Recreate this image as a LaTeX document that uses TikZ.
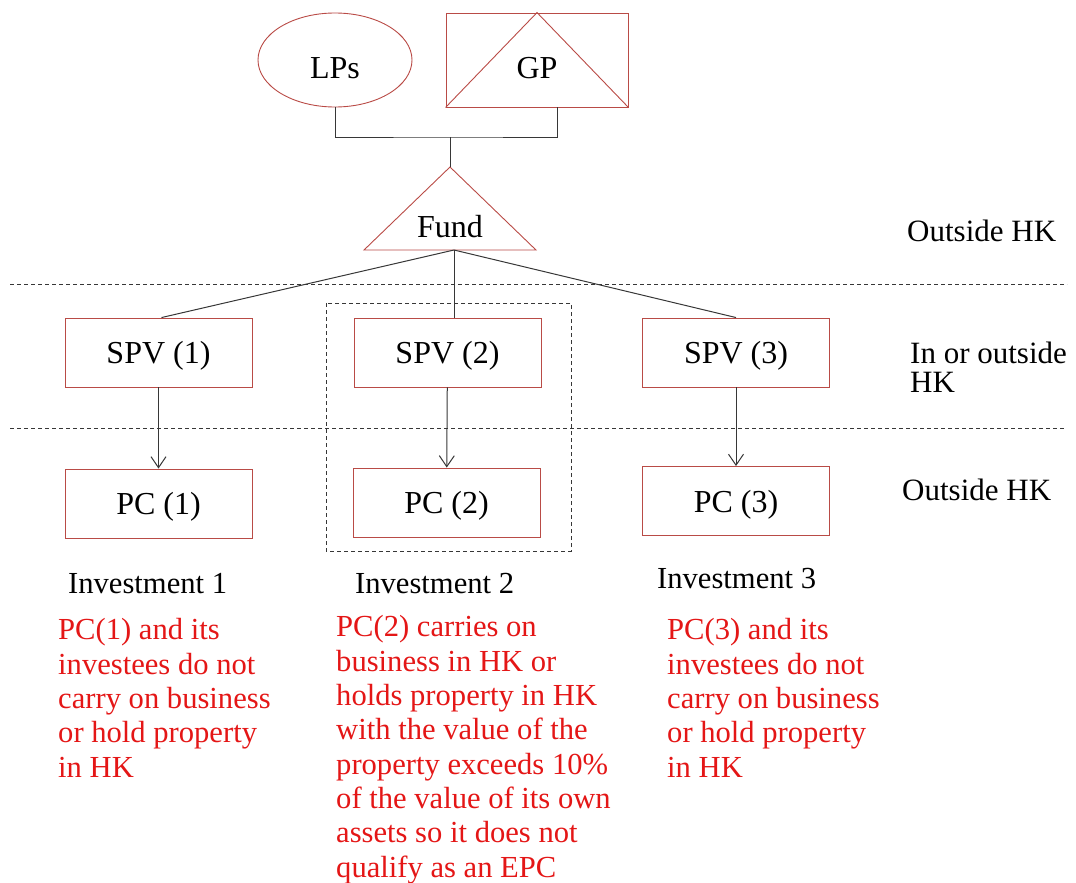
\documentclass[tikz,border=0pt]{standalone}
\usepackage{fontspec}
\setmainfont{Liberation Serif}
\usetikzlibrary{shapes.geometric,arrows.meta,calc,positioning}
\definecolor{boxred}{RGB}{185,75,70}
\definecolor{notered}{RGB}{228,22,22}
\definecolor{linegray}{RGB}{55,55,55}
\tikzset{>={Straight Barb[length=11pt,width=15pt]}}
\tikzset{
  entity/.style={draw=boxred, line width=0.9pt, rectangle, minimum width=187pt, minimum height=69pt,
    inner sep=0pt, font=\fontsize{32}{36}\selectfont, text height=26pt, text depth=4pt},
  link/.style={draw=linegray, line width=1pt},
  divider/.style={draw=linegray, line width=1pt, dash pattern=on 4pt off 3pt},
  zonelabel/.style={anchor=base west, inner sep=0pt, align=left, font=\fontsize{31}{29}\selectfont},
  investlabel/.style={anchor=base west, inner sep=0pt, font=\fontsize{30.6}{34}\selectfont},
  note/.style={anchor=base west, inner sep=0pt, align=left, text=notered, font=\fontsize{30.6}{34.3}\selectfont}
}

\begin{document}
\begin{tikzpicture}[x=1pt,y=-1pt]
\useasboundingbox (0,0) rectangle (1076,883);

% owners
\node[entity, ellipse, minimum width=154pt, minimum height=94pt, text height=40pt] (lps) at (335,60) {LPs};
\node[entity, minimum width=182pt, minimum height=94pt, text height=40pt] (gp) at (537,60) {GP};
\draw[boxred, line width=0.9pt] (gp.south west) -- (gp.north) -- (gp.south east);

% fund
\coordinate (fundtop) at (450,167);
\coordinate (fundbase) at (454,250);
\draw[boxred, line width=0.9pt] (fundtop) -- (364,250) -- (536,250) -- cycle;
\node[anchor=base, inner sep=0pt, font=\fontsize{32}{36}\selectfont] (fund) at (450,237) {Fund};

\coordinate (join) at (450,137);
\coordinate (gpfoot) at (557,107);
\draw[link] (lps.south) |- (join) -| (gpfoot);
\draw[link] (join) -- (fundtop);

% SPVs and PCs
\node[entity] (spv1) at (158.5,352.5) {SPV (1)};
\node[entity] (spv2) at (447.5,352.5) {SPV (2)};
\node[entity] (spv3) at (736,352.5) {SPV (3)};
\node[entity] (pc1) at (158.5,503.5) {PC (1)};
\node[entity] (pc2) at (446.5,502.5) {PC (2)};
\node[entity] (pc3) at (736,501) {PC (3)};

\draw[link] (fundbase) -- ($(spv1.north)+(3,0)$);
\draw[link] (fundbase) -- (fundbase |- spv2.north);
\draw[link] (fundbase) -- (spv3.north);

\draw[link,->] (spv1) -- (pc1);
\draw[link,->] (spv2) -- (pc2);
\draw[link,->] (spv3) -- (pc3);

% zones
\draw[divider] (10,284) -- (1067,284);
\draw[divider] (10,428) -- (1065,428);
\draw[divider] (326,303) rectangle (571,551);

\node[zonelabel] (zone1) at (907,241) {Outside HK};
\node[zonelabel] (zone2) at (910,392) {In or outside\\HK};
\node[zonelabel] (zone3) at (902,500) {Outside HK};

% investments
\node[investlabel] (inv1) at (68,593) {Investment 1};
\node[investlabel] (inv2) at (355,593) {Investment 2};
\node[investlabel] (inv3) at (657,588) {Investment 3};

% notes (anchored at last line)
\node[note] (note1) at (58,777) {PC(1) and its\\investees do not\\carry on business\\or hold property\\in HK};
\node[note] (note2) at (336,877) {PC(2) carries on\\business in HK or\\holds property in HK\\with the value of the\\property exceeds 10\%\\of the value of its own\\assets so it does not\\qualify as an EPC};
\node[note] (note3) at (667,777) {PC(3) and its\\investees do not\\carry on business\\or hold property\\in HK};
\end{tikzpicture}
\end{document}
